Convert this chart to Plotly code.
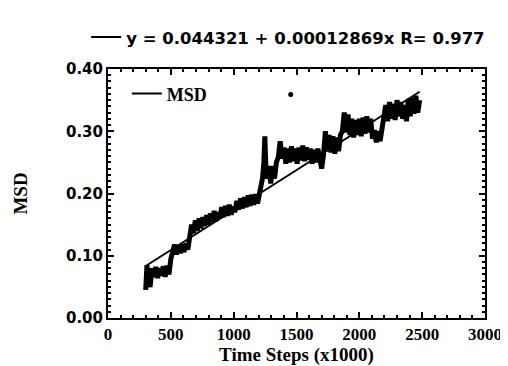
import plotly.graph_objects as go

# MSD time series (time steps x1000, MSD)
t_steps = [300, 310, 320, 335, 350, 365, 380, 395, 410, 425, 440, 455, 470, 485,
           500, 515, 530, 545, 560, 575, 590, 605, 620, 635, 650, 665, 680, 695,
           710, 725, 740, 755, 770, 785, 800, 815, 830, 845, 860, 875, 890, 905,
           920, 935, 950, 965, 980, 995, 1010, 1025, 1040, 1055, 1070, 1085, 1100,
           1115, 1130, 1145, 1160, 1175, 1190, 1205, 1215, 1230, 1240, 1248, 1256,
           1265, 1280, 1295, 1310, 1325, 1340, 1355, 1370, 1385, 1400, 1415, 1430,
           1445, 1460, 1475, 1490, 1505, 1520, 1535, 1550, 1565, 1580, 1595, 1610,
           1625, 1640, 1655, 1670, 1685, 1700, 1715, 1730, 1745, 1760, 1775, 1790,
           1805, 1820, 1835, 1850, 1865, 1880, 1895, 1910, 1925, 1940, 1955, 1970,
           1985, 2000, 2015, 2030, 2045, 2060, 2075, 2090, 2105, 2120, 2135, 2150,
           2165, 2180, 2195, 2210, 2225, 2240, 2255, 2270, 2285, 2300, 2315, 2330,
           2345, 2360, 2375, 2390, 2405, 2420, 2435, 2450, 2465, 2480]
msd = [0.045, 0.085, 0.060, 0.050, 0.080, 0.066, 0.082, 0.064, 0.080, 0.068, 0.083, 0.066, 0.084, 0.070,
       0.095, 0.104, 0.118, 0.102, 0.117, 0.104, 0.118, 0.106, 0.120, 0.110, 0.125, 0.150, 0.136, 0.157,
       0.140, 0.160, 0.144, 0.162, 0.148, 0.165, 0.150, 0.168, 0.154, 0.172, 0.156, 0.170, 0.160, 0.178,
       0.162, 0.180, 0.164, 0.182, 0.166, 0.179, 0.170, 0.188, 0.174, 0.192, 0.176, 0.194, 0.178,
       0.197, 0.180, 0.198, 0.182, 0.199, 0.184, 0.200, 0.200, 0.225, 0.250, 0.292, 0.245,
       0.224, 0.244, 0.216, 0.244, 0.224, 0.250, 0.258, 0.284, 0.256, 0.274, 0.248, 0.272,
       0.250, 0.276, 0.252, 0.272, 0.248, 0.274, 0.253, 0.277, 0.252, 0.274, 0.254, 0.272,
       0.248, 0.270, 0.250, 0.272, 0.248, 0.240, 0.262, 0.300, 0.268, 0.294, 0.266, 0.292,
       0.264, 0.290, 0.268, 0.294, 0.300, 0.330, 0.298, 0.327, 0.294, 0.320, 0.290, 0.318,
       0.294, 0.320, 0.292, 0.322, 0.296, 0.324, 0.298, 0.320, 0.288, 0.302, 0.282, 0.300,
       0.284, 0.302, 0.320, 0.342, 0.316, 0.347, 0.320, 0.344, 0.318, 0.350, 0.324, 0.347,
       0.320, 0.342, 0.316, 0.352, 0.324, 0.354, 0.328, 0.357, 0.330, 0.350]

# Outlier dot near the legend
outlier_t = [1454]
outlier_msd = [0.359]

# Linear fit line endpoints (y = 0.044321 + 0.00012869x)
fit_t = [300, 2480]
fit_msd = [0.0835, 0.3635]
fit_label = "y = 0.044321 + 0.00012869x R= 0.977"

x_ticks = [0, 500, 1000, 1500, 2000, 2500, 3000]
y_ticks = [0.0, 0.1, 0.2, 0.3, 0.4]
y_tick_labels = ["0.00", "0.10", "0.20", "0.30", "0.40"]

fig = go.Figure()
fig.add_trace(go.Scatter(x=t_steps, y=msd, mode="lines", name="MSD", showlegend=False,
                         legendgroup="msd", line=dict(color="black", width=5)))
# legend entry for MSD drawn with a thin line like the original key
fig.add_trace(go.Scatter(x=[None], y=[None], mode="lines", name="MSD", legendgroup="msd",
                         line=dict(color="black", width=2), legend="legend"))
fig.add_trace(go.Scatter(x=fit_t, y=fit_msd, mode="lines", name=fit_label,
                         line=dict(color="black", width=2), legend="legend2"))
fig.add_trace(go.Scatter(x=outlier_t, y=outlier_msd, mode="markers", showlegend=False,
                         marker=dict(color="black", size=5)))

serif = "Liberation Serif"
sans = "DejaVu Sans"

fig.update_layout(
    width=508, height=366,
    margin=dict(l=98, r=31, t=52, b=54),
    paper_bgcolor="white", plot_bgcolor="white",
    legend=dict(x=0.05, y=0.9, xanchor="left", yanchor="middle",
                font=dict(family=serif, size=18, color="black", weight="bold"),
                bgcolor="rgba(0,0,0,0)"),
    legend2=dict(x=-0.058, y=1.127, xanchor="left", yanchor="middle",
                 font=dict(family=sans, size=16.5, color="black", weight="bold"),
                 bgcolor="rgba(0,0,0,0)"),
    xaxis=dict(range=[0, 3000], tickvals=x_ticks, ticks="inside", ticklen=6, tickwidth=2,
               tickcolor="black", showline=True, linewidth=2, linecolor="black", mirror="ticks",
               showgrid=False, zeroline=False,
               minor=dict(dtick=100, ticks="inside", ticklen=3, tickwidth=1.5, tickcolor="black", showgrid=False),
               tickfont=dict(family=serif, size=17, color="black", weight="bold"),
               title=dict(text="Time Steps (x1000)", standoff=4,
                          font=dict(family=serif, size=19, color="black", weight="bold"))),
    yaxis=dict(range=[0, 0.4], tickvals=y_ticks, ticktext=y_tick_labels, ticks="inside", ticklen=6,
               tickwidth=2, tickcolor="black", showline=True, linewidth=2, linecolor="black",
               mirror="ticks", showgrid=False, zeroline=False,
               minor=dict(dtick=0.01, ticks="inside", ticklen=3, tickwidth=1.5, tickcolor="black", showgrid=False),
               tickfont=dict(family=sans, size=15, color="black", weight="bold"),
               title=dict(text="MSD", standoff=33,
                          font=dict(family=serif, size=19, color="black", weight="bold"))),
)

fig.write_html("out.html")
